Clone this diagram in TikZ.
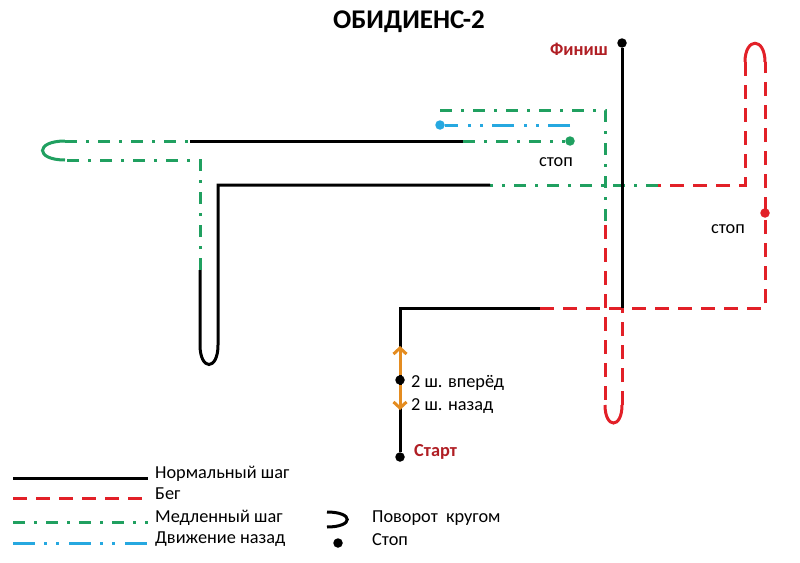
\documentclass[tikz,border=0pt]{standalone}
\usepackage{fontspec}
\setmainfont{Carlito}
\usetikzlibrary{arrows.meta}
\definecolor{runred}{RGB}{226,32,40}
\definecolor{slowgreen}{RGB}{32,160,96}
\definecolor{backblue}{RGB}{38,168,224}
\definecolor{steporange}{RGB}{228,140,32}
\definecolor{labelred}{RGB}{176,30,36}

\begin{document}
\begin{tikzpicture}[x=1pt,y=-1pt,
    normalstep/.style={line width=3pt,black},
    runline/.style={line width=3pt,runred,dash pattern=on 14pt off 9pt},
    runturn/.style={line width=3pt,runred},
    slowstep/.style={line width=3pt,slowgreen,dash pattern=on 12pt off 9pt on 3pt off 9pt},
    slowturn/.style={line width=3pt,slowgreen},
    backstep/.style={line width=3pt,backblue,dash pattern=on 22pt off 9pt on 3pt off 9pt on 3pt off 10pt},
    steparrow/.style={line width=3pt,steporange,-{Straight Barb[length=6pt,width=13pt]}},
    stopdot/.style={circle,fill,inner sep=0pt,minimum size=9.5pt},
    txt/.style={font=\fontsize{18.3}{20}\selectfont,inner sep=0pt},
    boldtxt/.style={font=\fontsize{18.3}{20}\selectfont\bfseries,inner sep=0pt,labelred}]
  \useasboundingbox (0,0) rectangle (800,562);

  \node[font=\fontsize{27}{30}\selectfont\bfseries] (title) at (409,22) {ОБИДИЕНС-2};

  % route corners
  \coordinate (bend) at (400,308);
  \coordinate (runfrom) at (540,308);
  \coordinate (runright) at (765,308);
  \coordinate (topR) at (765,62);
  \coordinate (topL) at (745,62);
  \coordinate (rundown) at (745,185);
  \coordinate (slowfrom) at (658,185);
  \coordinate (normfrom) at (490,185);
  \coordinate (innertop) at (218,185);
  \coordinate (innerbot) at (218,345);
  \coordinate (outerbot) at (200,345);
  \coordinate (slowup) at (200,270);
  \coordinate (outertop) at (200,160);
  \coordinate (leftlow) at (65,160);
  \coordinate (lefthigh) at (65,141);
  \coordinate (normtop) at (190,141);
  \coordinate (normend) at (463,141);
  \coordinate (backfrom) at (570,125);
  \coordinate (slowtop) at (440,110);
  \coordinate (topcorner) at (605,110);
  \coordinate (runbegin) at (605,225);
  \coordinate (uL) at (605,405);
  \coordinate (uR) at (622,405);
  \coordinate (finishfrom) at (622,308);
  \coordinate (fwdtip) at (400,346);
  \coordinate (backtip) at (400,410);

  \node[stopdot] (start) at (400,457) {};
  \node[stopdot] (midstep) at (400,380) {};
  \node[stopdot] (finish) at (622,43) {};
  \node[stopdot,slowgreen] (slowstop) at (570,141) {};
  \node[stopdot,backblue] (backstop) at (440,125) {};
  \node[stopdot,runred] (runstop) at (765,213) {};

  \draw[runline] (runfrom) -- (runright) -- (topR);
  \draw[runturn] (topR) .. controls +(0,-25) and +(0,-25) .. (topL);
  \draw[runline] (topL) -- (rundown) -- (slowfrom);
  \draw[slowstep] (slowfrom) -- (normfrom);
  \draw[normalstep] (normfrom) -- (innertop) -- (innerbot)
    .. controls +(0,26) and +(0,26) .. (outerbot) -- (slowup);
  \draw[slowstep] (slowup) -- (outertop) -- (leftlow);
  \draw[slowturn] (leftlow) .. controls +(-30,0) and +(-30,0) .. (lefthigh);
  \draw[slowstep] (lefthigh) -- (normtop);
  \draw[normalstep] (normtop) -- (normend);
  \draw[slowstep] (normend) -- (slowstop);
  \draw[backstep] (backfrom) -- (backstop);
  \draw[slowstep] (slowtop) -- (topcorner) -- (runbegin);
  \draw[runline] (runbegin) -- (uL);
  \draw[runturn] (uL) .. controls +(0,24) and +(0,24) .. (uR);
  \draw[runline] (uR) -- (finishfrom);
  \draw[normalstep] (start) -- (bend) -- (runfrom);
  \draw[normalstep] (finishfrom) -- (finish);
  \draw[steparrow] (midstep) -- (fwdtip);
  \draw[steparrow] (midstep) -- (backtip);

  \node[boldtxt,anchor=east] (finishlabel) at (608,49) {Финиш};
  \node[boldtxt,anchor=west] (startlabel) at (414,452) {Старт};
  \node[txt] (slowstoplabel) at (556,162) {стоп};
  \node[txt] (runstoplabel) at (728,229) {стоп};
  \node[txt,anchor=west] (fwdlabel) at (411,383) {2 ш. вперёд};
  \node[txt,anchor=west] (backlabel) at (411,406) {2 ш. назад};

  % legend
  \foreach \sty/\name/\y in {normalstep/Нормальный шаг/478, runline/Бег/498,
      slowstep/Медленный шаг/522, backstep/Движение назад/543} {
    \node[txt,anchor=west] (lg\sty) at (155,\y-4) {\name};
    \draw[\sty] (13,\y) -- (148,\y);
  }
  \draw[line width=3pt] (327,512) .. controls (354,512) and (354,527) .. (327,527);
  \node[txt,anchor=west] (lgturn) at (372,518) {Поворот\ \ кругом};
  \node[stopdot] (lgdot) at (338,543) {};
  \node[txt,anchor=west] (lgstop) at (372,540) {Стоп};
\end{tikzpicture}
\end{document}
